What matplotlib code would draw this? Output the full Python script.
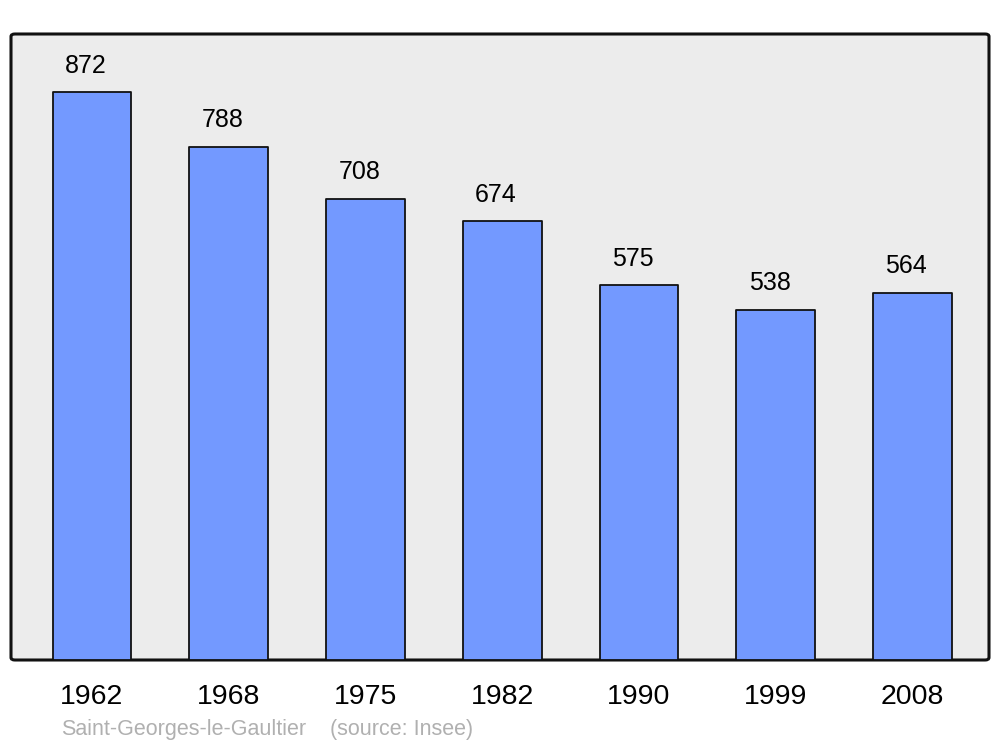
import matplotlib.pyplot as plt
from matplotlib.patches import FancyBboxPatch

plt.rcParams['font.family'] = ['Liberation Sans', 'DejaVu Sans']

# Daten
years = ['1962', '1968', '1975', '1982', '1990', '1999', '2008']
population = [872, 788, 708, 674, 575, 538, 564]
commune = 'Saint-Georges-le-Gaultier'
source = '(source: Insee)'

fig = plt.figure(figsize=(10, 7.47), dpi=100)
ax = fig.add_axes([0.011, 1 - 660 / 747, 0.978, 626 / 747])
ax.set_facecolor('none')

# Hintergrund mit abgerundeten Ecken
bg = FancyBboxPatch((0, 0), 1, 1, boxstyle='round,pad=0,rounding_size=0.004',
                    transform=ax.transAxes, facecolor='#ececec',
                    edgecolor='#111111', linewidth=2.2, zorder=0, clip_on=False)
ax.add_patch(bg)

x = list(range(len(years)))
bars = ax.bar(x, population, width=0.575, color='#7399ff', edgecolor='#111111',
              linewidth=1.3, zorder=2)
for b in bars:
    b.set_joinstyle('round')

# Werte über den Balken
for xi, v in zip(x, population):
    ax.annotate(str(v), (xi, v), xytext=(-4.5, 19), textcoords='offset points',
                ha='center', va='center', fontsize=18, color='black')

ax.set_xlim(-0.592, 6.559)
ax.set_ylim(0, 961)
ax.set_xticks(x)
ax.set_xticklabels(years, fontsize=20.5)
ax.set_yticks([])
ax.tick_params(axis='x', length=0, pad=17)
for s in ax.spines.values():
    s.set_visible(False)

fig.text(0.061, 1 - 730 / 747, commune, fontsize=15.5, color='#b0b0b0', va='center')
fig.text(0.330, 1 - 730 / 747, source, fontsize=15.5, color='#b0b0b0', va='center')

fig.savefig('out.png', dpi=100)
